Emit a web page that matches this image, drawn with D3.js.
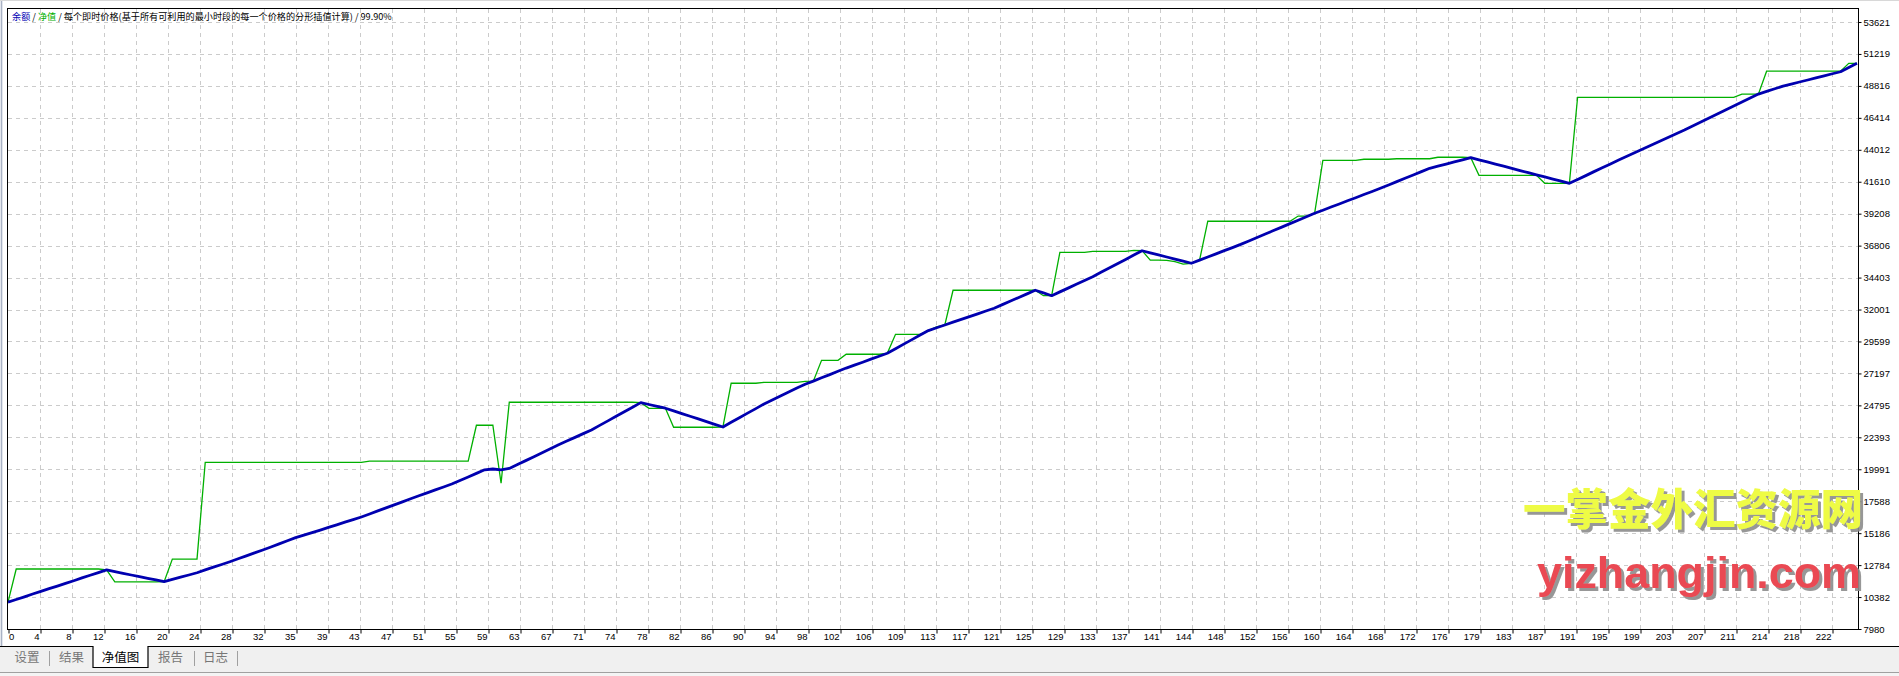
<!DOCTYPE html>
<html><head><meta charset="utf-8">
<script src="https://cdn.jsdelivr.net/npm/d3@7"></script>
<style>html,body{margin:0;padding:0;background:#fff;overflow:hidden}</style>
</head><body>
<svg id="chart" width="1899" height="676"></svg>
<script>
// ---------- data ----------
const xTickLabels = [0,4,8,12,16,20,24,28,32,35,39,43,47,51,55,59,63,67,71,74,78,82,86,90,94,98,102,106,109,113,117,121,125,129,133,137,141,144,148,152,156,160,164,168,172,176,179,183,187,191,195,199,203,207,211,214,218,222];
const yTickValues = [7980,10382,12784,15186,17588,19991,22393,24795,27197,29599,32001,34403,36806,39208,41610,44012,46414,48816,51219,53621];

const balance = [
10000,10200,10400,10610,10810,11010,11210,11410,11610,11820,12020,12220,12420,
12290,12170,12040,11920,11790,11670,11540,
11710,11880,12040,12210,
12420,12630,12830,13040,
13260,13480,13700,13920,
14150,14380,14620,14850,
15040,15230,15420,
15620,15810,16010,16200,16400,
16630,16860,17090,17310,17540,17770,18000,
18220,18440,18660,18880,
19150,19410,19680,19950,
20010,19940,20050,
20350,20640,20940,21240,21530,21830,
22110,22390,22670,22950,
23290,23630,23970,24320,24660,25000,
24860,24720,24580,
24380,24180,23980,23780,23570,23370,23170,
23520,23860,24210,24550,24900,
25200,25500,25800,26100,26380,26620,
26870,27110,27360,27600,
27820,28040,28270,28490,28710,
29050,29400,29740,30080,30420,
30630,30840,
31050,31260,31470,31680,31890,32100,
32370,32640,32910,33180,33450,
33250,33040,
33330,33610,33900,34190,34470,
34800,35120,35450,35770,36100,36420,
36260,36110,35950,35790,35640,35480,
35720,35950,36190,36430,36660,36900,
37160,37420,37680,37940,38200,38460,38720,38980,39240,
39470,39710,39940,40180,40410,40650,40880,41120,
41370,41620,41870,42120,42370,42620,
42780,42940,43100,43260,43420,
43260,43100,42940,42780,42610,42450,42290,42130,41970,41810,41650,41490,
41780,42070,42370,42660,42950,43240,
43520,43810,44090,44370,44660,44940,45220,45500,
45800,46100,46400,46700,47000,47300,
47600,47900,48200,
48400,48600,48800,
48950,49110,49260,49420,49570,49730,49880,
50200,50515
];

const equity = [
10000,
12490,12490,12490,12490,12490,12490,12490,12490,12490,12490,12490,
12420,
11520,11520,11520,11520,11520,11520,
11540,
13240,13240,13240,13240,
20510,20510,20510,20510,20510,20510,20510,20510,20510,20510,20510,20510,20510,20510,20510,20510,20510,20510,20510,20510,
20610,20610,20610,20610,20610,20610,20610,20610,20610,20610,20610,20610,20610,
23300,23300,23300,
18940,
25030,25030,25030,25030,25030,25030,25030,25030,25030,25030,25030,25030,25030,25030,25030,25030,
25000,
24570,24570,24570,
23150,23150,23150,23150,23150,23150,
23170,
26460,26460,26460,26460,
26530,26530,26530,26530,26530,
26600,26610,
28180,28180,28180,
28640,28640,28640,28640,28640,
28710,
30140,30140,30140,30140,
30420,30700,30840,
33450,33450,33450,33450,33450,33450,33450,33450,33450,33450,33450,
33040,33040,
36300,36300,36300,36300,
36380,36380,36380,36380,36380,
36450,36430,
35720,35720,35700,35600,35420,35480,35720,
38640,38640,38640,38640,38640,38640,38640,38640,38640,38640,38640,
39030,39030,
39240,
43220,43220,43220,43220,43220,
43300,43300,43300,43300,
43340,43340,43340,43340,43340,
43450,43450,43450,43450,
43420,
42090,42090,42090,42090,42090,42090,42090,42090,
41490,41490,41490,41490,
47960,47960,47960,47960,47960,47960,47960,47960,47960,47960,47960,47960,47960,47960,47960,47960,47960,47960,47960,47960,
48200,48200,48200,
49920,49920,49920,49920,49920,49920,49920,49920,49920,49920,
50515,50515
];

const titleBalance = "余额";
const titleEquity = "净值";
const titleRest = " / 每个即时价格(基于所有可利用的最小时段的每一个价格的分形插值计算) / 99.90%";
const tabs = ["设置","结果","净值图","报告","日志"];
const activeTab = "净值图";
const watermarkCn = "一掌金外汇资源网";
const watermarkEn = "yizhangjin.com";

// ---------- layout ----------
const W = 1899, H = 676;
const L = 8, R = 1858, T = 8, B = 629;
const svg = d3.select("#chart");
const numFont = "'Liberation Sans', Arial, sans-serif";
const cjkFont = "'Noto Sans CJK SC', sans-serif";

const defs = svg.append("defs");
const f = defs.append("filter").attr("id", "wmShadow").attr("x", "-5%").attr("y", "-20%").attr("width", "110%").attr("height", "140%");
f.append("feDropShadow").attr("dx", 3).attr("dy", 3).attr("stdDeviation", 0.6)
  .attr("flood-color", "#8c8c8c").attr("flood-opacity", 0.9);

svg.append("rect").attr("width", W).attr("height", H).attr("fill", "#fff");
// left window frame
svg.append("rect").attr("x", 0).attr("y", 0).attr("width", 3).attr("height", 647).attr("fill", "#e4e7ee");
svg.append("line").attr("x1", 1.5).attr("x2", 1.5).attr("y1", 0).attr("y2", 647).attr("stroke", "#a9b2c4").attr("stroke-width", 1);
svg.append("line").attr("x1", 0).attr("x2", W).attr("y1", 0.5).attr("y2", 0.5).attr("stroke", "#d8d8d8");

const x = d3.scaleLinear().domain([0, balance.length - 1]).range([L, R - 1]);
const y = d3.scaleLinear().domain([yTickValues[0], yTickValues[yTickValues.length - 1]]).range([B, 22]);
const xGrid = d3.scaleLinear().domain([0, xTickLabels.length - 1]).range([L, L + 32 * (xTickLabels.length - 1)]);

// grid
const grid = svg.append("g").attr("stroke", "#cbcbcb").attr("stroke-width", 1).attr("stroke-dasharray", "4,4");
grid.selectAll("line.v").data(d3.range(1, xTickLabels.length)).join("line")
  .attr("x1", i => Math.round(xGrid(i)) + 0.5).attr("x2", i => Math.round(xGrid(i)) + 0.5)
  .attr("y1", T + 1).attr("y2", B);
grid.selectAll("line.h").data(yTickValues.slice(1)).join("line")
  .attr("x1", L).attr("x2", R)
  .attr("y1", d => Math.round(y(d)) + 0.5).attr("y2", d => Math.round(y(d)) + 0.5);

// series
const line = d3.line().x((d, i) => x(i)).y(d => y(d));
svg.append("path").datum(equity).attr("d", line)
  .attr("fill", "none").attr("stroke", "#00b000").attr("stroke-width", 1.3);
svg.append("path").datum(balance).attr("d", line)
  .attr("fill", "none").attr("stroke", "#0000b0").attr("stroke-width", 2.8).attr("stroke-linejoin", "round");

// border
svg.append("rect").attr("x", L - 0.5).attr("y", T + 0.5).attr("width", R - L + 1).attr("height", B - T)
  .attr("fill", "none").attr("stroke", "#000").attr("stroke-width", 1);

// x axis
const xAxis = d3.axisBottom(xGrid).tickValues(d3.range(xTickLabels.length))
  .tickFormat(i => xTickLabels[i]).tickSize(4).tickSizeOuter(0);
const gx = svg.append("g").attr("transform", `translate(0.5,${B + 0.5})`).call(xAxis);
gx.select(".domain").remove();
gx.selectAll(".tick line").attr("stroke", "#000");
gx.selectAll(".tick text")
  .attr("font-family", numFont).attr("font-size", 9.5).attr("fill", "#000")
  .attr("y", 10.5).attr("dy", null)
  .attr("text-anchor", i => i === 0 ? "start" : "end")
  .attr("x", i => i === 0 ? 0 : -1.5);

// y axis
const yAxis = d3.axisRight(y).tickValues(yTickValues).tickFormat(d => d).tickSize(3).tickPadding(2).tickSizeOuter(0);
const gy = svg.append("g").attr("transform", `translate(${R + 0.5},0)`).call(yAxis);
gy.select(".domain").remove();
gy.selectAll(".tick line").attr("stroke", "#000");
gy.selectAll(".tick text").attr("font-family", numFont).attr("font-size", 9.5).attr("fill", "#000");

// title
const title = svg.append("text").attr("x", 12).attr("y", 20)
  .attr("font-family", cjkFont).attr("font-size", 10).attr("fill", "#000");
title.append("tspan").attr("fill", "#0000b4").text(titleBalance);
title.append("tspan").text(" / ");
title.append("tspan").attr("fill", "#00b000").text(titleEquity);
title.append("tspan").text(titleRest);
const tw = title.node().getComputedTextLength();
title.attr("font-size", 10 * 380 / tw);

// watermark (single text each, shadow via filter)
const wm = svg.append("g");
wm.append("text").attr("x", 1523).attr("y", 525).attr("font-family", cjkFont).attr("font-weight", 900)
  .attr("font-size", 43).attr("textLength", 340).attr("lengthAdjust", "spacingAndGlyphs")
  .attr("fill", "#eefb44").attr("filter", "url(#wmShadow)").text(watermarkCn);
wm.append("text").attr("x", 1537).attr("y", 588).attr("font-family", numFont).attr("font-weight", 700)
  .attr("font-size", 45).attr("textLength", 324).attr("lengthAdjust", "spacingAndGlyphs")
  .attr("fill", "#ea4a52").attr("filter", "url(#wmShadow)").text(watermarkEn);

// bottom tab bar
svg.append("rect").attr("x", 0).attr("y", 647).attr("width", W).attr("height", 25).attr("fill", "#f0f0f0");
svg.append("line").attr("x1", 0).attr("x2", W).attr("y1", 646.5).attr("y2", 646.5).attr("stroke", "#000").attr("stroke-width", 1.2);
svg.append("line").attr("x1", 0).attr("x2", W).attr("y1", 672.5).attr("y2", 672.5).attr("stroke", "#a0a0a0");
svg.append("rect").attr("x", 0).attr("y", 673).attr("width", W).attr("height", 3).attr("fill", "#f4f4f4");

const tabCenters = [27, 71.5, 120.5, 170.5, 215.5];
const seps = [49, 194, 237];
svg.selectAll("line.sep").data(seps).join("line")
  .attr("x1", d => d + 0.5).attr("x2", d => d + 0.5).attr("y1", 651).attr("y2", 666).attr("stroke", "#a0a0a0");
const ai = tabs.indexOf(activeTab);
svg.append("path")
  .attr("d", `M${tabCenters[ai] - 27.5},646 V667.5 H${tabCenters[ai] + 27.5} V646`)
  .attr("fill", "#fff").attr("stroke", "#000").attr("stroke-width", 1.2);
svg.selectAll("text.tab").data(tabs).join("text")
  .attr("x", (d, i) => tabCenters[i]).attr("y", 661.5)
  .attr("text-anchor", "middle").attr("font-family", cjkFont).attr("font-size", 12.5)
  .attr("fill", d => d === activeTab ? "#000" : "#777").text(d => d);
</script>
</body></html>
